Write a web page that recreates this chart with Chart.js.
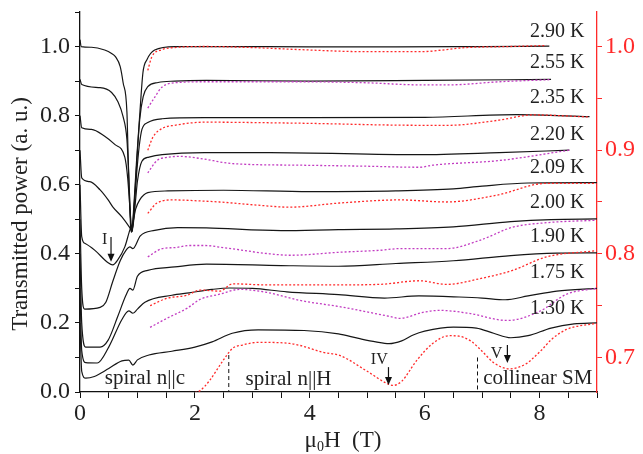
<!DOCTYPE html>
<html>
<head>
<meta charset="utf-8">
<script src="https://cdn.jsdelivr.net/npm/chart.js@4.4.1/dist/chart.umd.min.js"></script>
<style>
 html, body { margin: 0; padding: 0; background: #fff; }
 #wrap { width: 643px; height: 454px; }
</style>
</head>
<body>
<div id="wrap"><canvas id="transmissionChart" width="643" height="454"></canvas></div>
<script>
// temperatures, top to bottom
var temps = ["2.90 K", "2.55 K", "2.35 K", "2.20 K", "2.09 K", "2.00 K", "1.90 K", "1.75 K", "1.30 K"];

// solid curves, left axis (transmitted power)
var h290 = [0, 0.02, 0.2, 0.43, 0.55, 0.62, 0.70, 0.75, 0.817, 0.84, 0.865, 0.885, 0.90, 0.93, 0.96, 0.985, 1.043, 1.096, 1.165, 1.30, 1.65, 2.5, 4, 5.5, 7, 8.17];
var p290 = [1.02, 1.0, 0.998, 0.99, 0.98, 0.97, 0.942, 0.896, 0.81, 0.67, 0.54, 0.47, 0.462, 0.52, 0.60, 0.67, 0.81, 0.925, 0.962, 0.99, 1.0, 1.0, 0.999, 0.999, 1.0, 1.001];

var h255 = [0, 0.03, 0.35, 0.55, 0.66, 0.75, 0.817, 0.845, 0.87, 0.89, 0.905, 0.935, 0.965, 0.99, 1.04, 1.10, 1.18, 1.36, 1.65, 2.2, 4, 6, 8.2];
var p255 = [0.905, 0.89, 0.881, 0.867, 0.84, 0.797, 0.73, 0.64, 0.54, 0.475, 0.465, 0.52, 0.60, 0.67, 0.79, 0.855, 0.884, 0.896, 0.90, 0.902, 0.90, 0.902, 0.905];

var h235 = [0, 0.03, 0.2, 0.43, 0.61, 0.78, 0.83, 0.87, 0.895, 0.91, 0.95, 0.985, 1.03, 1.078, 1.18, 1.43, 2.17, 4, 6, 7.6, 8.87];
var p235 = [0.80, 0.765, 0.76, 0.74, 0.716, 0.68, 0.62, 0.53, 0.47, 0.465, 0.55, 0.63, 0.71, 0.76, 0.78, 0.791, 0.794, 0.794, 0.795, 0.803, 0.797];

var h220 = [0, 0.03, 0.17, 0.35, 0.49, 0.57, 0.73, 0.87, 0.90, 0.93, 0.97, 1.0, 1.078, 1.2, 1.43, 2.17, 3.3, 5.9, 7.3, 8.52];
var p220 = [0.70, 0.62, 0.609, 0.585, 0.556, 0.536, 0.507, 0.475, 0.467, 0.49, 0.56, 0.61, 0.668, 0.68, 0.687, 0.693, 0.693, 0.687, 0.693, 0.70];

var h209 = [0, 0.03, 0.09, 0.26, 0.49, 0.57, 0.66, 0.78, 0.87, 0.92, 0.97, 1.04, 1.18, 1.53, 2.5, 4, 5.5, 6.5, 7.0, 7.8, 9.0];
var p209 = [0.60, 0.45, 0.43, 0.41, 0.374, 0.368, 0.383, 0.42, 0.47, 0.49, 0.53, 0.556, 0.577, 0.582, 0.584, 0.58, 0.582, 0.588, 0.596, 0.605, 0.606];

var h200 = [0, 0.03, 0.08, 0.35, 0.45, 0.57, 0.7, 0.8, 0.87, 0.92, 1.05, 1.3, 1.7, 2.2, 3.5, 4.5, 5.5, 6.5, 7.5, 8.2, 9.0];
var p200 = [0.50, 0.30, 0.24, 0.245, 0.26, 0.32, 0.38, 0.41, 0.42, 0.415, 0.452, 0.468, 0.476, 0.475, 0.467, 0.47, 0.472, 0.478, 0.493, 0.499, 0.501];

var h190 = [0, 0.03, 0.1, 0.35, 0.49, 0.66, 0.8, 0.87, 0.92, 1.0, 1.18, 1.65, 2.2, 3.5, 4.5, 5.5, 6.5, 7.5, 8.3, 9.0];
var p190 = [0.40, 0.2, 0.13, 0.13, 0.15, 0.22, 0.28, 0.30, 0.295, 0.335, 0.352, 0.362, 0.37, 0.366, 0.364, 0.372, 0.38, 0.395, 0.402, 0.403];

var h175 = [0, 0.03, 0.1, 0.3, 0.5, 0.73, 0.85, 0.92, 1.0, 1.13, 1.6, 1.9, 2.3, 2.6, 3.0, 3.6, 4.5, 5.3, 5.9, 6.6, 7.0, 7.4, 7.8, 8.3, 9.0];
var p175 = [0.30, 0.12, 0.085, 0.084, 0.13, 0.21, 0.235, 0.228, 0.24, 0.26, 0.28, 0.287, 0.297, 0.301, 0.30, 0.29, 0.282, 0.272, 0.278, 0.275, 0.272, 0.267, 0.278, 0.292, 0.30];

var h130 = [0, 0.03, 0.1, 0.25, 0.5, 0.73, 0.85, 0.92, 1.0, 1.2, 1.6, 2.0, 2.3, 2.65, 3.1, 3.9, 4.5, 4.85, 5.15, 5.38, 5.6, 5.8, 6.0, 6.5, 6.9, 7.2, 7.5, 7.8, 8.2, 8.6, 9.0];
var p130 = [0.20, 0.06, 0.04, 0.045, 0.068, 0.09, 0.092, 0.078, 0.093, 0.107, 0.118, 0.13, 0.145, 0.17, 0.18, 0.178, 0.168, 0.155, 0.145, 0.14, 0.148, 0.165, 0.176, 0.188, 0.185, 0.17, 0.157, 0.163, 0.185, 0.197, 0.20];

// dotted curves, right axis
var dh290 = [1.18, 1.25, 1.43, 1.65, 2.17, 3.0, 3.83, 4.99, 5.91, 6.73, 7.5, 8.12];
var dp290 = [0.977, 0.99, 0.997, 0.999, 1.0, 0.999, 0.997, 0.995, 0.995, 0.999, 1.0, 1.001];

var dh255 = [1.18, 1.30, 1.43, 1.65, 2.17, 3.83, 4.99, 5.91, 6.43, 7.30, 8.17];
var dp255 = [0.9406, 0.951, 0.961, 0.965, 0.966, 0.966, 0.965, 0.963, 0.963, 0.966, 0.968];

var dh235 = [1.18, 1.27, 1.43, 1.65, 2.17, 3.83, 5.91, 6.43, 7.30, 7.88, 8.87];
var dp235 = [0.900, 0.9126, 0.921, 0.924, 0.927, 0.926, 0.924, 0.924, 0.929, 0.934, 0.932];

var dh220 = [1.18, 1.34, 1.51, 1.74, 2.09, 2.66, 3.83, 4.99, 5.91, 6.14, 7.30, 8.52];
var dp220 = [0.878, 0.890, 0.893, 0.894, 0.892, 0.887, 0.8855, 0.8845, 0.8835, 0.8855, 0.890, 0.900];

var dh209 = [1.18, 1.34, 1.62, 2.09, 2.43, 3.08, 3.65, 4.52, 5.57, 6.38, 7.25, 8.12, 8.99];
var dp209 = [0.839, 0.849, 0.852, 0.851, 0.850, 0.847, 0.845, 0.849, 0.852, 0.850, 0.8565, 0.868, 0.868];

var dh200 = [1.18, 1.43, 1.65, 1.91, 2.17, 2.49, 3.30, 3.65, 4.52, 5.22, 5.57, 6.38, 6.96, 7.53, 8.12, 8.99];
var dp200 = [0.797, 0.805, 0.806, 0.808, 0.808, 0.806, 0.800, 0.7986, 0.8015, 0.8034, 0.805, 0.805, 0.813, 0.8256, 0.830, 0.8324];

var dh190 = [1.22, 1.51, 1.86, 2.09, 2.43, 2.66, 3.25, 4.40, 5.22, 5.91, 6.38, 6.96, 7.53, 8.12, 8.99];
var dp190 = [0.750, 0.757, 0.760, 0.765, 0.764, 0.771, 0.770, 0.770, 0.7705, 0.774, 0.7705, 0.776, 0.784, 0.797, 0.803];

var dh175 = [1.22, 1.51, 1.86, 2.09, 2.43, 2.78, 3.25, 3.83, 4.52, 5.39, 5.57, 5.97, 6.26, 6.78, 7.43, 8.0, 8.47, 8.99];
var dp175 = [0.729, 0.7377, 0.7473, 0.756, 0.761, 0.7657, 0.7628, 0.755, 0.749, 0.7396, 0.7377, 0.7435, 0.7454, 0.7425, 0.7357, 0.7444, 0.761, 0.7667];

var dh130 = [2.0, 2.09, 2.26, 2.49, 2.66, 2.83, 3.08, 3.25, 3.65, 3.83, 4.23, 4.52, 4.99, 5.34, 5.45, 5.6, 5.86, 6.14, 6.43, 6.6, 6.8, 7.0, 7.2, 7.48, 7.77, 7.88, 8.05, 8.2, 8.47, 8.99];
var dp130 = [0.666, 0.668, 0.678, 0.697, 0.709, 0.712, 0.7145, 0.7145, 0.7135, 0.7116, 0.705, 0.702, 0.687, 0.675, 0.673, 0.677, 0.697, 0.7135, 0.721, 0.7205, 0.716, 0.706, 0.695, 0.689, 0.694, 0.699, 0.708, 0.717, 0.727, 0.733];

var leftTicks = [0, 0.1, 0.2, 0.3, 0.4, 0.5, 0.6, 0.7, 0.8, 0.9, 1.0, 1.1];
var rightTicks = [0.7, 0.75, 0.8, 0.85, 0.9, 0.95, 1.0];
var fieldTicks = [0, 0.5, 1, 1.5, 2, 2.5, 3, 3.5, 4, 4.5, 5, 5.5, 6, 6.5, 7, 7.5, 8, 8.5, 9];

var RED = "#ff2a2a";
var MAGENTA = "#c23cc2";
var SERIF = '"Liberation Serif", "Times New Roman", serif';

function pts(xs, ys) {
 return xs.map(function (v, i) {
  return { x: v, y: ys[i] };
 });
}

function solid(label, xs, ys) {
 return {
  label: label,
  data: pts(xs, ys),
  yAxisID: "y",
  borderColor: "#161616",
  borderWidth: 1.2,
  pointRadius: 0,
  fill: false,
  cubicInterpolationMode: "monotone",
 };
}

function dotted(label, xs, ys, color) {
 return {
  label: label,
  data: pts(xs, ys),
  yAxisID: "y1",
  borderColor: color,
  borderWidth: 1.3,
  borderDash: [2, 2],
  pointRadius: 0,
  fill: false,
  cubicInterpolationMode: "monotone",
 };
}

var datasets = [
 dotted(temps[0], dh290, dp290, RED),
 dotted(temps[1], dh255, dp255, MAGENTA),
 dotted(temps[2], dh235, dp235, RED),
 dotted(temps[3], dh220, dp220, MAGENTA),
 dotted(temps[4], dh209, dp209, RED),
 dotted(temps[5], dh200, dp200, MAGENTA),
 dotted(temps[6], dh190, dp190, RED),
 dotted(temps[7], dh175, dp175, MAGENTA),
 dotted(temps[8], dh130, dp130, RED),
 solid(temps[0], h290, p290),
 solid(temps[1], h255, p255),
 solid(temps[2], h235, p235),
 solid(temps[3], h220, p220),
 solid(temps[4], h209, p209),
 solid(temps[5], h200, p200),
 solid(temps[6], h190, p190),
 solid(temps[7], h175, p175),
 solid(temps[8], h130, p130),
];

// temperature labels and phase annotations drawn on top
var tempLabelY = [1.043, 0.954, 0.852, 0.745, 0.649, 0.548, 0.449, 0.345, 0.241];

function arrowDown(ctx, px, top, bottom) {
 ctx.beginPath();
 ctx.moveTo(px, top);
 ctx.lineTo(px, bottom - 6);
 ctx.stroke();
 ctx.beginPath();
 ctx.moveTo(px - 3.5, bottom - 8);
 ctx.lineTo(px + 3.5, bottom - 8);
 ctx.lineTo(px, bottom);
 ctx.closePath();
 ctx.fill();
}

var overlayPlugin = {
 id: "overlay",
 afterDatasetsDraw: function (chart) {
  var ctx = chart.ctx;
  var x = chart.scales.x;
  var y = chart.scales.y;
  ctx.save();

  ctx.fillStyle = "#222";
  ctx.font = "20px " + SERIF;
  ctx.textAlign = "right";
  ctx.textBaseline = "middle";
  temps.forEach(function (t, i) {
   ctx.fillText(t, x.getPixelForValue(8.78), y.getPixelForValue(tempLabelY[i]));
  });

  ctx.font = "21px " + SERIF;
  ctx.textAlign = "center";
  ctx.fillText("spiral n||c", x.getPixelForValue(1.13), y.getPixelForValue(0.038));
  ctx.fillText("spiral n||H", x.getPixelForValue(3.63), y.getPixelForValue(0.036));
  ctx.fillText("collinear SM", x.getPixelForValue(7.97), y.getPixelForValue(0.038));

  // phase boundaries
  ctx.strokeStyle = "#111";
  ctx.lineWidth = 1;
  ctx.setLineDash([4, 3]);
  [[2.59, 0.107], [6.92, 0.1]].forEach(function (b) {
   ctx.beginPath();
   ctx.moveTo(x.getPixelForValue(b[0]), y.getPixelForValue(b[1]));
   ctx.lineTo(x.getPixelForValue(b[0]), y.getPixelForValue(0));
   ctx.stroke();
  });
  ctx.setLineDash([]);

  // arrows I, IV, V
  ctx.fillStyle = "#111";
  ctx.lineWidth = 1.2;
  arrowDown(ctx, x.getPixelForValue(0.54), y.getPixelForValue(0.449), y.getPixelForValue(0.377));
  arrowDown(ctx, x.getPixelForValue(5.37), y.getPixelForValue(0.072), y.getPixelForValue(0.02));
  arrowDown(ctx, x.getPixelForValue(7.44), y.getPixelForValue(0.136), y.getPixelForValue(0.084));

  ctx.fillStyle = "#222";
  ctx.font = "16px " + SERIF;
  ctx.textAlign = "center";
  ctx.fillText("I", x.getPixelForValue(0.43), y.getPixelForValue(0.441));
  ctx.fillText("IV", x.getPixelForValue(5.21), y.getPixelForValue(0.093));
  ctx.fillText("V", x.getPixelForValue(7.25), y.getPixelForValue(0.11));

  // axis titles
  ctx.fillStyle = "#222";
  ctx.font = "23px " + SERIF;
  ctx.textAlign = "center";
  ctx.textBaseline = "middle";
  ctx.save();
  ctx.translate(21, 214);
  ctx.rotate(-Math.PI / 2);
  ctx.fillText("Transmitted power (a. u.)", 0, 0);
  ctx.restore();

  var partA = "μ", partSub = "0", partB = "H  (T)";
  var big = "23px " + SERIF, small = "14px " + SERIF;
  ctx.font = big;
  var wA = ctx.measureText(partA).width;
  var wB = ctx.measureText(partB).width;
  ctx.font = small;
  var wS = ctx.measureText(partSub).width;
  var start = 343 - (wA + wS + wB) / 2;
  ctx.textAlign = "left";
  ctx.textBaseline = "alphabetic";
  ctx.font = big;
  ctx.fillText(partA, start, 447);
  ctx.font = small;
  ctx.fillText(partSub, start + wA, 451);
  ctx.font = big;
  ctx.fillText(partB, start + wA + wS, 447);

  ctx.restore();
 },
};

function setTicks(list) {
 return function (scale) {
  scale.ticks = list.map(function (v) {
   return { value: v };
  });
 };
}

var ctx = document.getElementById("transmissionChart");

new Chart(ctx, {
 type: "line",
 data: { datasets: datasets },
 options: {
  responsive: false,
  animation: false,
  devicePixelRatio: 1,
  layout: { padding: { top: 12, left: 0, right: 0, bottom: 0 } },
  plugins: {
   legend: { display: false },
   tooltip: { enabled: false },
  },
  scales: {
   x: {
    type: "linear",
    min: 0,
    max: 9,
    afterBuildTicks: setTicks(fieldTicks),
    afterFit: function (scale) {
     scale.height = 62;
    },
    border: { color: "#111", width: 1.3 },
    grid: { drawOnChartArea: false, tickLength: 6, color: "#111" },
    ticks: {
     color: "#222",
     font: { family: SERIF, size: 24 },
     padding: 1,
     maxRotation: 0,
     autoSkip: false,
     callback: function (v) {
      return v % 2 === 0 ? String(v) : "";
     },
    },
   },
   y: {
    type: "linear",
    position: "left",
    min: 0,
    max: 1.1,
    afterBuildTicks: setTicks(leftTicks),
    afterFit: function (scale) {
     scale.width = 80;
    },
    border: { color: "#111", width: 1.3 },
    grid: { drawOnChartArea: false, tickLength: 5, color: "#111" },
    ticks: {
     color: "#222",
     font: { family: SERIF, size: 24, lineHeight: 0.5 },
     padding: 5,
     autoSkip: false,
     callback: function (v) {
      var k = Math.round(v * 10);
      return k % 2 === 0 && k <= 10 ? (k / 10).toFixed(1) : "";
     },
    },
   },
   y1: {
    type: "linear",
    position: "right",
    min: 2 / 3,
    max: 1.0333,
    afterBuildTicks: setTicks(rightTicks),
    afterFit: function (scale) {
     scale.width = 46;
    },
    border: { color: RED, width: 1.3 },
    grid: { drawOnChartArea: false, tickLength: 5, color: RED },
    ticks: {
     color: RED,
     font: { family: SERIF, size: 24, lineHeight: 0.5 },
     padding: 3,
     autoSkip: false,
     callback: function (v) {
      var k = Math.round(v * 100);
      return k % 10 === 0 ? (k / 100).toFixed(1) : "";
     },
    },
   },
  },
 },
 plugins: [overlayPlugin],
});
</script>
</body>
</html>
